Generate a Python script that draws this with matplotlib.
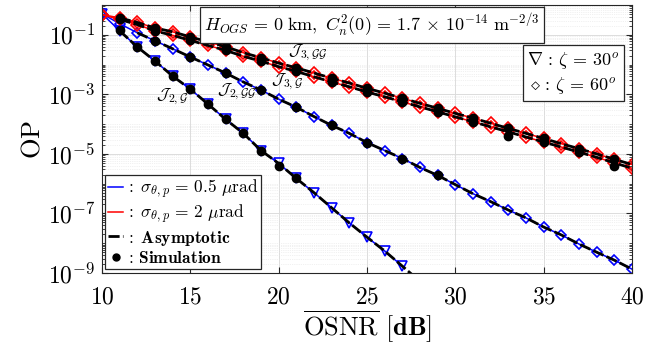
import matplotlib
matplotlib.use("Agg")
import matplotlib.pyplot as plt
from matplotlib.lines import Line2D
from matplotlib.ticker import FixedLocator, LogLocator, FuncFormatter, NullFormatter
import numpy as np

plt.rcParams['mathtext.fontset'] = 'cm'
plt.rcParams['font.family'] = 'serif'
plt.rcParams['font.serif'] = ['DejaVu Serif']

osnr = list(range(10, 41))

# sigma = 0.5 urad, zeta = 30 deg (triangles)
blue_tri = [0.51, 0.136, 0.039, 0.0132, 4.1e-3, 1.5e-3, 4.7e-4, 1.45e-4, 4.9e-5, 1.3e-5,
            4.8e-6, 1.5e-6, 5.0e-7, 1.55e-7, 4.8e-8, 1.6e-8, 5.5e-9, 1.7e-9]
blue_tri_asym = [0.136, 0.039, 0.0132, 4.1e-3, 1.5e-3, 4.7e-4, 1.45e-4, 4.9e-5, 1.3e-5,
                 4.8e-6, 1.5e-6, 5.0e-7, 1.55e-7, 4.8e-8, 1.6e-8, 5.5e-9, 1.7e-9, 5.2e-10]
blue_tri_sim_x = [11, 12, 13, 14, 15, 16, 17, 18, 19, 20, 21]
blue_tri_sim = [0.14, 0.039, 0.0135, 4.0e-3, 1.5e-3, 4.8e-4, 1.45e-4, 5.0e-5, 1.3e-5, 4.0e-6, 1.5e-6]

# sigma = 0.5 urad, zeta = 60 deg (diamonds)
blue_dia = [0.51, 0.236, 0.117, 0.063, 0.034, 0.018, 9.7e-3, 5.2e-3, 2.6e-3, 1.4e-3,
            6.9e-4, 3.7e-4, 1.8e-4, 9.1e-5, 4.9e-5, 2.4e-5, 1.3e-5, 7.0e-6, 3.5e-6, 1.9e-6,
            9.3e-7, 4.6e-7, 2.5e-7, 1.3e-7, 7.1e-8, 3.5e-8, 1.9e-8, 9.4e-9, 5.0e-9, 2.7e-9, 1.35e-9]
blue_dia_sim_x = [13, 15, 17, 19, 21, 23, 25, 27, 29]
blue_dia_sim = [0.063, 0.018, 5.2e-3, 1.4e-3, 3.7e-4, 9.1e-5, 2.4e-5, 7.0e-6, 1.9e-6]

# sigma = 2 urad (two curves)
red_a = [0.48, 0.37, 0.26, 0.17, 0.126, 0.085, 0.058, 0.040, 0.025, 0.017,
         0.0112, 7.8e-3, 5.2e-3, 3.5e-3, 2.4e-3, 1.6e-3, 1.1e-3, 7.4e-4, 5.0e-4, 3.4e-4,
         2.3e-4, 1.6e-4, 1.07e-4, 7.2e-5, 4.9e-5, 3.3e-5, 2.2e-5, 1.5e-5, 1.0e-5, 6.6e-6, 4.4e-6]
red_b = [0.47, 0.33, 0.22, 0.135, 0.096, 0.065, 0.044, 0.030, 0.019, 0.013,
         8.5e-3, 5.9e-3, 3.9e-3, 2.6e-3, 1.8e-3, 1.2e-3, 8.3e-4, 5.6e-4, 3.8e-4, 2.6e-4,
         1.75e-4, 1.2e-4, 8.1e-5, 5.5e-5, 3.7e-5, 2.5e-5, 1.7e-5, 1.15e-5, 7.7e-6, 5.0e-6, 3.3e-6]
red_sim_x = [11, 13, 15, 17, 19, 21, 23, 25, 27, 29, 31, 33, 35, 37, 39]
red_a_sim = [0.37, 0.17, 0.085, 0.040, 0.017, 7.8e-3, 3.5e-3, 1.6e-3, 7.4e-4, 3.4e-4,
             1.6e-4, 7.2e-5, 3.3e-5, 1.5e-5, 6.6e-6]
red_b_sim = [0.33, 0.135, 0.065, 0.030, 0.013, 5.9e-3, 2.6e-3, 1.2e-3, 5.6e-4, 2.6e-4,
             1.2e-4, 4.0e-5, 2.5e-5, 1.15e-5, 3.9e-6]

fig = plt.figure(figsize=(6.68, 3.48), dpi=100)
ax = fig.add_axes([0.1527, 0.2155, 0.7934, 0.7700])

mk = dict(markerfacecolor='none', markeredgewidth=1.2, lw=1.1)
ax.plot(osnr[:len(blue_tri)], blue_tri, 'b-', marker='v', ms=7, **mk)
ax.plot(osnr, blue_dia, 'b-', marker='D', ms=5.5, **mk)
ax.plot(osnr, red_a, 'r-', marker='D', ms=6.5, **mk)
ax.plot(osnr, red_b, 'r-', marker='D', ms=6.5, **mk)

dash = dict(color='k', lw=2.0, linestyle=(0, (4, 1.2)))
ax.plot(osnr[1:1 + len(blue_tri_asym)], blue_tri_asym, **dash)
ax.plot(osnr[2:], blue_dia[2:], **dash)
ax.plot(osnr[1:], red_a[1:], **dash)
ax.plot(osnr[1:], red_b[1:], **dash)

dot = dict(color='k', marker='o', ms=6, linestyle='none')
ax.plot(blue_tri_sim_x, blue_tri_sim, **dot)
ax.plot(blue_dia_sim_x, blue_dia_sim, **dot)
ax.plot(red_sim_x, red_a_sim, **dot)
ax.plot(red_sim_x, red_b_sim, **dot)

ax.set_yscale('log')
ax.set_xlim(10, 40)
ax.set_ylim(1e-9, 1)
ax.set_xticks([10, 15, 20, 25, 30, 35, 40])
ax.xaxis.set_major_formatter(FuncFormatter(lambda v, p: r'$%d$' % v))
ax.yaxis.set_major_locator(FixedLocator([1e-9, 1e-7, 1e-5, 1e-3, 1e-1]))
ax.yaxis.set_major_formatter(FuncFormatter(lambda v, p: r'$10^{%d}$' % round(np.log10(v))))
ax.yaxis.set_minor_locator(LogLocator(base=10, subs=np.arange(1, 10), numticks=100))
ax.yaxis.set_minor_formatter(NullFormatter())
ax.tick_params(which='both', direction='in', top=True, right=True, labelsize=17, color='#262626')
ax.tick_params(axis='x', pad=9)
ax.tick_params(axis='y', pad=5)
ax.tick_params(which='major', length=4)
ax.tick_params(which='minor', length=2)
ax.grid(True, which='major', color='#dcdcdc', lw=0.7)
ax.grid(True, which='minor', axis='y', color='#e4e4e4', lw=0.5, linestyle=':')
for s in ax.spines.values():
    s.set_color('#262626')
    s.set_linewidth(0.8)

ax.set_ylabel(r'$\mathrm{OP}$', fontsize=19, labelpad=2)
ax.set_xlabel(r'$\overline{\mathrm{OSNR}}\ [\mathbf{dB}]$', fontsize=19, labelpad=0)

box = dict(boxstyle='square,pad=0.25', facecolor='white', edgecolor='#262626', lw=0.9)
ax.text(0.509, 0.925, r'$H_{OGS}\,=\,0\ \mathrm{km},\ C_n^2(0)\,=\,1.7\,\times\,10^{-14}\ \mathrm{m}^{-2/3}$',
        transform=ax.transAxes, ha='center', va='center', fontsize=13, bbox=box, zorder=5)
ax.text(0.889, 0.746, r'$\nabla\,:\,\zeta\,=\,30^o$' + '\n' + r'$\diamond\,:\,\zeta\,=\,60^o$',
        transform=ax.transAxes, ha='center', va='center', fontsize=13, bbox=box,
        linespacing=1.3, zorder=5)

lab = dict(fontsize=12, ha='center', va='center')
ax.text(13.96, 8e-4, r'$\mathcal{J}_{2,\mathcal{G}}$', **lab)
ax.text(17.64, 1.2e-3, r'$\mathcal{J}_{2,\mathcal{G}\mathcal{G}}$', **lab)
ax.text(20.47, 2.6e-3, r'$\mathcal{J}_{3,\mathcal{G}}$', **lab)
ax.text(21.66, 0.025, r'$\mathcal{J}_{3,\mathcal{G}\mathcal{G}}$', **lab)

handles = [Line2D([], [], color='b', lw=1.1),
           Line2D([], [], color='r', lw=1.1),
           Line2D([], [], color='k', lw=2.0, linestyle=(0, (4, 1.2))),
           Line2D([], [], color='k', marker='o', ms=5, linestyle='none')]
labels = [r'$:\ \sigma_{\theta,p}\,=\,0.5\ \mu\mathrm{rad}$',
          r'$:\ \sigma_{\theta,p}\,=\,2\ \mu\mathrm{rad}$',
          r'$:\ \mathbf{Asymptotic}$',
          r'$:\,\mathbf{Simulation}$']
leg = ax.legend(handles, labels, loc='lower left', bbox_to_anchor=(0.006, 0.014),
                borderaxespad=0, fontsize=12.5, handlelength=0.9, handletextpad=0.1,
                labelspacing=0.12, borderpad=0.15, fancybox=False, framealpha=1,
                edgecolor='#262626')
leg.get_frame().set_linewidth(0.9)

fig.savefig('out.png', dpi=100)
